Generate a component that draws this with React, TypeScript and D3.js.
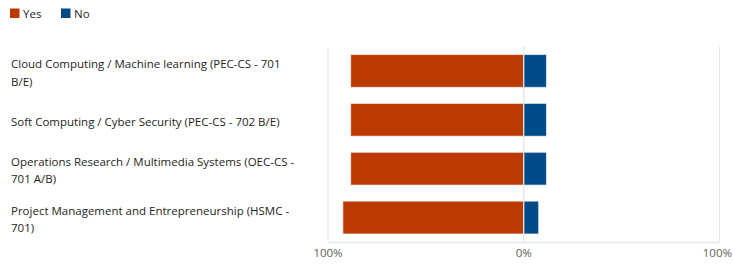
import React from "react";
import * as d3 from "d3";

const categories = [
  "Cloud Computing / Machine learning (PEC-CS - 701\nB/E)",
  "Soft Computing / Cyber Security (PEC-CS - 702 B/E)",
  "Operations Research / Multimedia Systems (OEC-CS -\n701 A/B)",
  "Project Management and Entrepreneurship (HSMC -\n701)",
];
const yesValues = [88.4, 88.4, 88.4, 92.4];
const noValues = [11.6, 11.6, 11.6, 7.6];
const seriesNames = ["Yes", "No"];
const seriesColors = ["#BA3A02", "#004B87"];
const tickValues = [-100, 0, 100];
const tickLabels = ["100%", "0%", "100%"];

const W = 733;
const H = 264;
const FONT = "'Segoe UI', 'Open Sans', 'Noto Sans', sans-serif";

export default function App() {
  const x = d3.scaleLinear().domain([-100, 100]).range([328, 719.5]);
  const y = d3
    .scaleBand<number>()
    .domain(categories.map((_, i) => i))
    .range([46.5, 242])
    .paddingInner(0.33)
    .paddingOuter(0.165);
  const bh = y.bandwidth();

  return (
    <svg
      width={W}
      height={H}
      style={{ position: "absolute", left: 0, top: 0, fontFamily: FONT }}
    >
      {/* legend */}
      {seriesNames.map((n, i) => (
        <g key={n} transform={`translate(${i === 0 ? 10 : 61},0)`}>
          <rect x={0} y={8.5} width={9.5} height={9.5} fill={seriesColors[i]} />
          <text x={13} y={17.5} fontSize={11.5} fill="#252423">
            {n}
          </text>
        </g>
      ))}

      {/* gridlines */}
      {tickValues.map((t) => (
        <line
          key={t}
          x1={x(t)}
          x2={x(t)}
          y1={46.5}
          y2={242}
          stroke="#E6E6E6"
          strokeWidth={1}
        />
      ))}
      <line x1={x(-100)} x2={x(100)} y1={242.5} y2={242.5} stroke="#E6E6E6" strokeWidth={1.5} />

      {/* bars */}
      {categories.map((c, i) => {
        const y0 = y(i)!;
        return (
          <g key={i}>
            <rect
              x={x(-yesValues[i])}
              y={y0}
              width={x(0) - x(-yesValues[i])}
              height={bh}
              fill={seriesColors[0]}
              stroke="#ffffff"
              strokeOpacity={0.6}
              strokeWidth={1}
            />
            <rect
              x={x(0)}
              y={y0}
              width={x(noValues[i]) - x(0)}
              height={bh}
              fill={seriesColors[1]}
              stroke="#ffffff"
              strokeOpacity={0.6}
              strokeWidth={1}
            />
          </g>
        );
      })}
      <line x1={x(0)} x2={x(0)} y1={46.5} y2={242} stroke="#E6E6E6" strokeWidth={1} />

      {/* category labels */}
      {categories.map((c, i) => {
        const lines = c.split("\n");
        const cy = y(i)! + bh / 2;
        const lh = 17.5;
        const start = cy - ((lines.length - 1) * lh) / 2 + 6;
        return (
          <text key={i} fontSize={11.5} fill="#252423">
            {lines.map((l, j) => (
              <tspan key={j} x={11} y={start + j * lh}>
                {l}
              </tspan>
            ))}
          </text>
        );
      })}

      {/* tick labels */}
      {tickValues.map((t, i) => (
        <text
          key={t}
          x={i === tickValues.length - 1 ? 732 : x(t)}
          y={257}
          fontSize={11.5}
          fill="#605E5C"
          textAnchor={i === tickValues.length - 1 ? "end" : "middle"}
        >
          {tickLabels[i]}
        </text>
      ))}
    </svg>
  );
}
